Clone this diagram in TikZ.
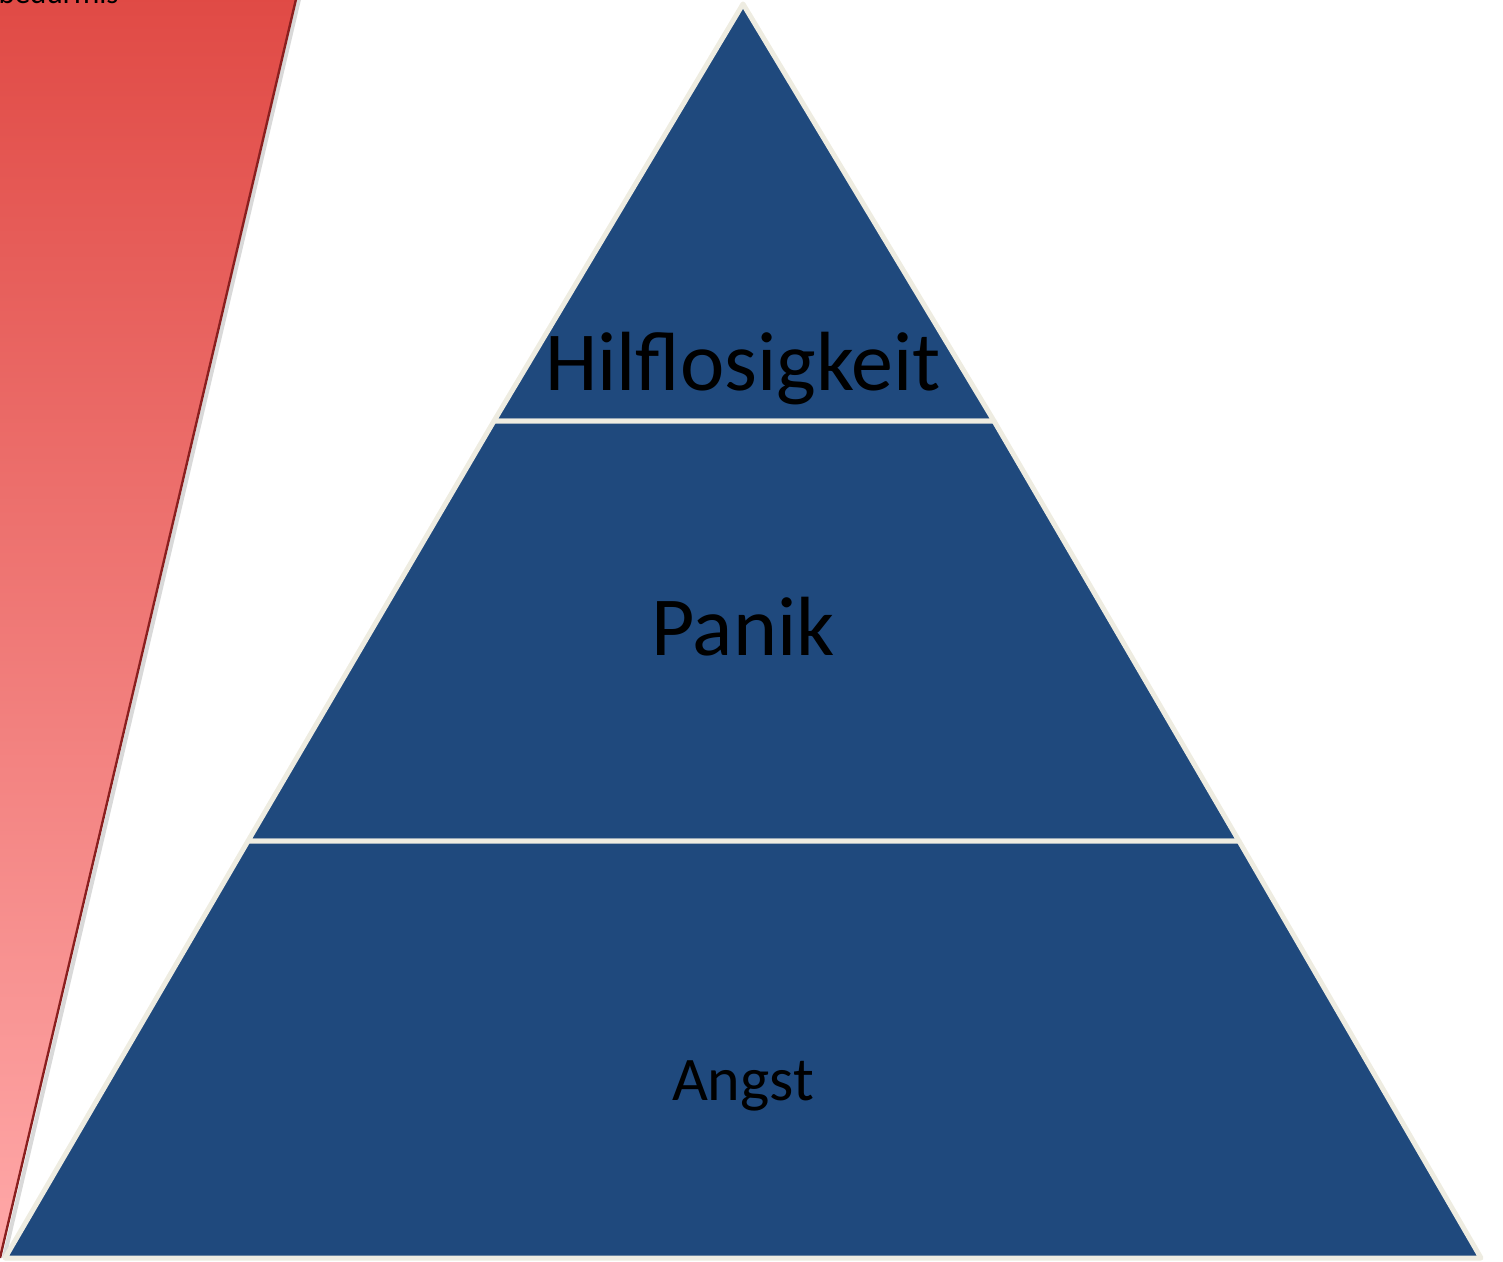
\documentclass[tikz,border=0pt]{standalone}
\usepackage{fontspec}
\setmainfont{Carlito}
\usepackage{tikz}

\definecolor{pyrblue}{HTML}{1F497D}
\definecolor{pyredge}{HTML}{EEECE1}
\definecolor{bandtop}{HTML}{E04A45}
\definecolor{bandbot}{HTML}{FFA8A8}
\definecolor{bandedge}{HTML}{8A1F1F}

\tikzset{
	layer/.style={fill=pyrblue, draw=pyredge, line width=2.5pt, line join=round},
	bigtext/.style={font=\fontsize{42}{50}\selectfont, text=black},
	smalltext/.style={font=\fontsize{31}{37}\selectfont, text=black}
}

\begin{document}
\begin{tikzpicture}[x=0.5pt, y=-0.5pt]
		\useasboundingbox (0,0) rectangle (1503,1262);
		\clip (0,0) rectangle (1503,1262);

		% red band on the left
		\shade[top color=bandtop, bottom color=bandbot]
			(-20,-5) -- (297,-5) -- (0,1258) -- (-20,1258) -- cycle;
		\draw[black!25, line width=2pt, opacity=0.6] (300,-5) -- (4,1258);
		\draw[bandedge, line width=1.2pt] (297,-5) -- (0,1258);
		\node[anchor=base east, font=\fontsize{15.5}{18}\selectfont, inner sep=0pt] (band) at (119,4) {bedürfnis};

		% pyramid layers
		\path	(743,4) coordinate(apex)
			(494,421) coordinate(l1) (994,421) coordinate(r1)
			(248,841) coordinate(l2) (1239,841) coordinate(r2)
			(5,1258) coordinate(l3) (1481,1258) coordinate(r3);
		\draw[layer] (apex) -- (r1) -- (l1) -- cycle;
		\draw[layer] (l1) -- (r1) -- (r2) -- (l2) -- cycle;
		\draw[layer] (l2) -- (r2) -- (r3) -- (l3) -- cycle;

		\node[bigtext, anchor=base] (hilf) at (743,390) {Hilflosigkeit};
		\node[bigtext, anchor=base] (panik) at (743,655) {Panik};
		\node[smalltext, anchor=base] (angst) at (743,1100) {Angst};
	\end{tikzpicture}
\end{document}
